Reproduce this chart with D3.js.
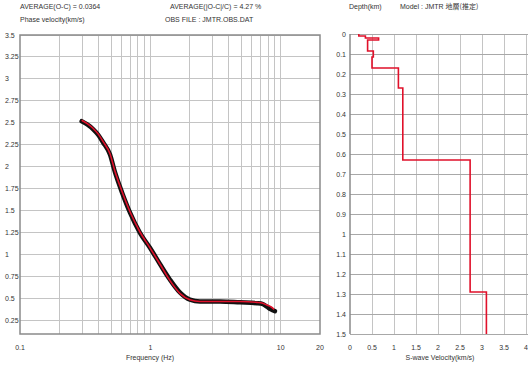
<!DOCTYPE html>
<html>
<head>
<meta charset="utf-8">
<script src="https://cdn.jsdelivr.net/npm/d3@7"></script>
<style>
  body { margin: 0; background: #fff; }
  svg { display: block; }
  .lbl { font-family: "Liberation Sans", Arial, sans-serif; font-size: 7px; fill: #333; }
  .cjk { font-family: "Noto Sans CJK JP", sans-serif; }
</style>
</head>
<body>
<svg id="chart" width="528" height="368"></svg>
<script>
// dispersion curve: observed and model phase velocity
var obsFreq = [0.297, 0.33, 0.363, 0.40, 0.433, 0.49, 0.535, 0.606, 0.698, 0.832, 0.993, 1.19, 1.41, 1.69, 2.01, 2.40, 3.42, 4.86, 6.57, 7.3, 7.83, 8.4, 9.02];
var obsVel  = [2.52, 2.48, 2.43, 2.36, 2.28, 2.14, 1.94, 1.71, 1.48, 1.25, 1.08, 0.89, 0.72, 0.57, 0.49, 0.47, 0.47, 0.46, 0.45, 0.44, 0.41, 0.38, 0.36];
var modFreq = [0.297, 0.33, 0.363, 0.40, 0.433, 0.49, 0.535, 0.606, 0.698, 0.832, 0.993, 1.19, 1.41, 1.69, 2.01, 2.40, 3.42, 4.86, 6.57, 7.3, 7.83, 8.4, 8.9];
var modVel  = [2.53, 2.49, 2.44, 2.37, 2.29, 2.15, 1.95, 1.72, 1.49, 1.26, 1.08, 0.89, 0.71, 0.56, 0.49, 0.47, 0.47, 0.47, 0.46, 0.45, 0.43, 0.41, 0.38];

var freqTicks = [0.1, 1, 10, 20];
var freqGrid = [0.2, 0.3, 0.4, 0.5, 0.6, 0.7, 0.8, 0.9, 1, 2, 3, 4, 5, 6, 7, 8, 9, 10];
var velTicks = [3.5, 3.25, 3, 2.75, 2.5, 2.25, 2, 1.75, 1.5, 1.25, 1, 0.75, 0.5, 0.25];

// velocity structure: layer tops (km) and S-wave velocities (km/s)
var layerTop = [0, 0.01, 0.02, 0.03, 0.085, 0.115, 0.17, 0.27, 0.63, 1.29];
var layerVs  = [0.2, 0.35, 0.65, 0.4, 0.53, 0.5, 1.1, 1.2, 2.73, 3.1];
var maxDepth = 1.5;
var depthTicks = [0, 0.1, 0.2, 0.3, 0.4, 0.5, 0.6, 0.7, 0.8, 0.9, 1, 1.1, 1.2, 1.3, 1.4, 1.5];
var vsTicks = [0, 0.5, 1, 1.5, 2, 2.5, 3, 3.5, 4];

var svg = d3.select("#chart");
var plotTop = 35, plotBottom = 334;

/* ---------- left panel ---------- */
var x1 = d3.scaleLog().domain([0.1, 20]).range([20, 320]);
var y1 = d3.scaleLinear().domain([0.1, 3.5]).range([plotBottom, plotTop]);

var left = svg.append("g");

// grid
left.selectAll(".vg").data(freqGrid).enter().append("line")
    .attr("x1", function(d) { return x1(d); })
    .attr("x2", function(d) { return x1(d); })
    .attr("y1", plotTop).attr("y2", plotBottom)
    .style("stroke", "#c4c4c4").style("stroke-width", 1)
    .style("shape-rendering", "crispEdges");
left.selectAll(".hg").data(velTicks).enter().append("line")
    .attr("x1", 20).attr("x2", 320)
    .attr("y1", function(d) { return y1(d); })
    .attr("y2", function(d) { return y1(d); })
    .style("stroke", "#c4c4c4").style("stroke-width", 1)
    .style("shape-rendering", "crispEdges");

left.append("rect")
    .attr("x", 20).attr("y", plotTop).attr("width", 300).attr("height", plotBottom - plotTop)
    .attr("fill", "none").style("stroke", "#8a8a8a").style("stroke-width", 1.5);

// curves
var line1 = d3.line().curve(d3.curveMonotoneX)
    .x(function(d) { return x1(d[0]); })
    .y(function(d) { return y1(d[1]); });

left.append("path")
    .datum(d3.zip(obsFreq, obsVel))
    .attr("d", line1)
    .attr("fill", "none")
    .style("stroke", "#111").style("stroke-width", 4.5)
    .style("stroke-linecap", "round");

left.append("path")
    .datum(d3.zip(modFreq, modVel))
    .attr("d", line1)
    .attr("fill", "none")
    .style("stroke", "#e0102a").style("stroke-width", 1.6);

// tick labels
left.selectAll(".xt").data(freqTicks).enter().append("text")
    .attr("class", "lbl")
    .attr("x", function(d) { return x1(d); })
    .attr("y", 350)
    .attr("text-anchor", "middle")
    .text(function(d) { return d; });
left.selectAll(".yt").data(velTicks).enter().append("text")
    .attr("class", "lbl")
    .attr("x", 5)
    .attr("y", function(d) { return y1(d) + 2.5; })
    .attr("text-anchor", "start")
    .text(function(d) { return d; });

left.append("text").attr("class", "lbl")
    .attr("x", 150).attr("y", 360).attr("text-anchor", "middle")
    .text("Frequency (Hz)");
left.append("text").attr("class", "lbl")
    .attr("x", 20).attr("y", 9).text("AVERAGE(O-C) = 0.0364");
left.append("text").attr("class", "lbl")
    .attr("x", 170).attr("y", 9).text("AVERAGE(|O-C|/C) = 4.27 %");
left.append("text").attr("class", "lbl")
    .attr("x", 20).attr("y", 22).text("Phase velocity(km/s)");
left.append("text").attr("class", "lbl")
    .attr("x", 165).attr("y", 22).text("OBS FILE : JMTR.OBS.DAT");

/* ---------- right panel ---------- */
var x2 = d3.scaleLinear().domain([0, 4]).range([350, 526]);
var y2 = d3.scaleLinear().domain([0, maxDepth]).range([plotTop - 1, plotBottom]);

var right = svg.append("g");

right.selectAll(".vg").data(vsTicks.slice(1)).enter().append("line")
    .attr("x1", function(d) { return x2(d); })
    .attr("x2", function(d) { return x2(d); })
    .attr("y1", plotTop).attr("y2", plotBottom)
    .style("stroke", "#c4c4c4").style("stroke-width", 1)
    .style("shape-rendering", "crispEdges");
right.selectAll(".hg").data(depthTicks).enter().append("line")
    .attr("x1", 350).attr("x2", 528)
    .attr("y1", function(d) { return y2(d); })
    .attr("y2", function(d) { return y2(d); })
    .style("stroke", "#a8a8a8").style("stroke-width", 1)
    .style("shape-rendering", "crispEdges");

right.append("line")
    .attr("x1", 350).attr("x2", 350).attr("y1", plotTop - 1).attr("y2", plotBottom)
    .style("stroke", "#8a8a8a").style("stroke-width", 1.5);

// step profile
var steps = [];
layerTop.forEach(function(d, i) {
    var bot = (i < layerTop.length - 1) ? layerTop[i + 1] : maxDepth;
    steps.push([layerVs[i], d]);
    steps.push([layerVs[i], bot]);
});
right.append("path")
    .datum(steps)
    .attr("d", d3.line()
        .x(function(d) { return x2(d[0]); })
        .y(function(d) { return y2(d[1]); }))
    .attr("fill", "none")
    .style("stroke", "#e0102a").style("stroke-width", 1.6);

right.selectAll(".xt").data(vsTicks).enter().append("text")
    .attr("class", "lbl")
    .attr("x", function(d) { return x2(d); })
    .attr("y", 350)
    .attr("text-anchor", "middle")
    .text(function(d) { return d; });
right.selectAll(".yt").data(depthTicks).enter().append("text")
    .attr("class", "lbl")
    .attr("x", 346)
    .attr("y", function(d) { return y2(d) + 2.5; })
    .attr("text-anchor", "end")
    .text(function(d) { return d; });

right.append("text").attr("class", "lbl")
    .attr("x", 440).attr("y", 360).attr("text-anchor", "middle")
    .text("S-wave Velocity(km/s)");
right.append("text").attr("class", "lbl")
    .attr("x", 349).attr("y", 9).text("Depth(km)");
right.append("text").attr("class", "lbl")
    .attr("x", 400).attr("y", 9)
    .html('Model : JMTR <tspan class="cjk">地層(推定)</tspan>');
</script>
</body>
</html>
